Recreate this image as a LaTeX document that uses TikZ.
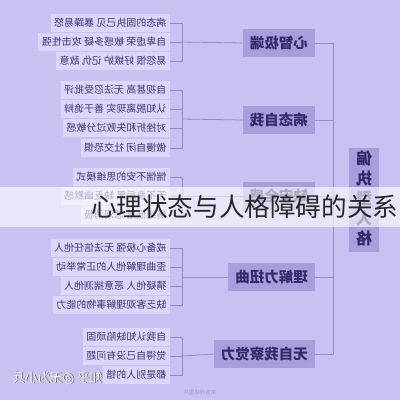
\documentclass[tikz,border=0pt]{standalone}
\usepackage{fontspec}
\setmainfont{Noto Sans CJK SC}
\usepackage{graphicx}
\definecolor{bgc}{HTML}{C9C1F1}
\definecolor{brc}{HTML}{A89EDC}
\definecolor{brt}{HTML}{36296A}
\definecolor{leafc}{HTML}{DCD7FA}
\definecolor{leaft}{HTML}{3F3474}
\definecolor{linec}{HTML}{958BC9}
\tikzset{
  leaf/.style={fill=leafc, text=leaft, font=\fontsize{10}{10}\selectfont, inner xsep=3.5pt, inner ysep=0pt, minimum height=17.5pt, anchor=east},
  branch/.style={fill=brc, text=brt, font=\fontsize{14.5}{15}\selectfont\bfseries, inner xsep=7pt, inner ysep=0pt, minimum height=28pt, anchor=east},
  conn/.style={draw=linec, line width=0.8pt}
}
\newcommand{\rb}[1]{\reflectbox{#1}}
\begin{document}
\begin{tikzpicture}[x=1pt,y=-1pt]
\useasboundingbox (0,0) rectangle (400,400);
\fill[bgc] (0,0) rectangle (400,400);

% root
\node[fill=brc, text=brt, minimum width=30pt, minimum height=104pt, inner sep=0pt,
      font=\fontsize{16}{20}\selectfont\bfseries] (root) at (364,200)
  {\begin{tabular}{@{}c@{}}\rb{偏}\\\rb{执}\\\rb{型}\\\rb{人}\\\rb{格}\end{tabular}};
\coordinate (tr) at (333,200);

% branches
\node[branch] (b1) at (315,43) {\rb{心智极端}};
\node[branch] (b2) at (315,120) {\rb{病态自我}};
\node[branch] (b3) at (315,196) {\rb{缺安全感}};
\node[branch] (b4) at (315,277) {\rb{理解力扭曲}};
\node[branch] (b5) at (315,354) {\rb{无自我察觉力}};

\coordinate (j1) at (182,42);
\coordinate (j2) at (182,119);
\coordinate (j3) at (182,196);
\coordinate (j4) at (182,277);
\coordinate (j5) at (182,356);

% leaves
\node[leaf] (l11) at (170,23) {\rb{病态的固执己见 暴躁易怒}};
\node[leaf] (l12) at (170,42) {\rb{自卑虚荣 敏感多疑 攻击性强}};
\node[leaf] (l13) at (170,61) {\rb{易怨恨 好嫉妒 记仇 敌意}};

\node[leaf] (l21) at (170,90) {\rb{自视甚高 无法忍受批评}};
\node[leaf] (l22) at (170,109) {\rb{认知脱离现实 善于诡辩}};
\node[leaf] (l23) at (170,128) {\rb{对挫折和失败过分敏感}};
\node[leaf] (l24) at (170,148) {\rb{傲慢自闭 社交恐惧}};

\node[leaf] (l31) at (170,177) {\rb{惴惴不安的思维模式}};
\node[leaf] (l32) at (170,196) {\rb{无不良后果 缺乏幽默感}};
\node[leaf] (l33) at (170,215) {\rb{情绪低落 悲观消极}};

\node[leaf] (l41) at (170,248) {\rb{戒备心极强 无法信任他人}};
\node[leaf] (l42) at (170,267) {\rb{歪曲理解他人的正常举动}};
\node[leaf] (l43) at (170,286) {\rb{猜疑他人 恶意揣测他人}};
\node[leaf] (l44) at (170,305) {\rb{缺乏客观理解事物的能力}};

\node[leaf] (l51) at (170,337) {\rb{自我认知缺陷顽固}};
\node[leaf] (l52) at (170,356) {\rb{觉得自己没有问题}};
\node[leaf] (l53) at (170,375) {\rb{都是别人的错}};

% connectors
\draw[conn] (root.west) -- (tr);
\foreach \b in {b1,b2,b3,b4,b5} \draw[conn] (\b.east) -| (tr);
\draw[conn] (b1.west) -- (j1);
\draw[conn] (b2.west) -- (j2);
\draw[conn] (b3.west) -- (j3);
\draw[conn] (b4.west) -- (j4);
\draw[conn] (b5.west) -- (j5);
\foreach \l in {l11,l12,l13} \draw[conn] (\l.east) -| (j1);
\foreach \l in {l21,l22,l23,l24} \draw[conn] (\l.east) -| (j2);
\foreach \l in {l31,l32,l33} \draw[conn] (\l.east) -| (j3);
\foreach \l in {l41,l42,l43,l44} \draw[conn] (\l.east) -| (j4);
\foreach \l in {l51,l52,l53} \draw[conn] (\l.east) -| (j5);

% watermarks
\node[text=gray!60!black, font=\fontsize{12.5}{12}\selectfont, anchor=west] (wms) at (9.8,378.8) {\rb{知乎 @无为小兵}};
\node[text=white!95!bgc, font=\fontsize{12.5}{12}\selectfont, anchor=west] (wm) at (9,378) {\rb{知乎 @无为小兵}};
\node[text=bgc!80!black, font=\fontsize{5.5}{6}\selectfont] (wm2) at (200,392) {\rb{来自网络图片}};

% title banner
\fill[white, opacity=0.6] (0,187) rectangle (400,227);
\node[text=black!85, font=\fontsize{25.6}{27}\selectfont, anchor=west, inner sep=0pt] (title) at (91,207) {心理状态与人格障碍的关系};
\end{tikzpicture}
\end{document}
